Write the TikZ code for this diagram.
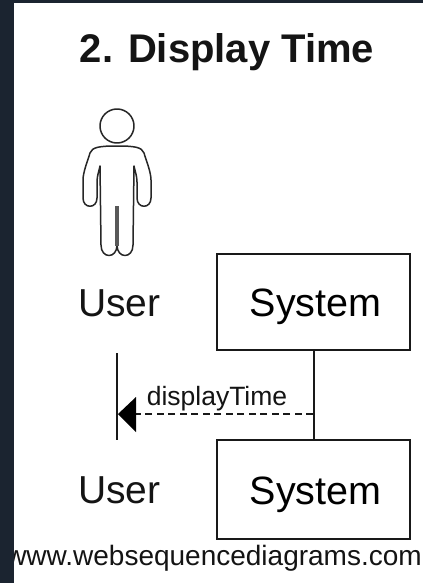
\documentclass[tikz,border=0pt]{standalone}
\usepackage{fontspec}
\setmainfont{Liberation Sans}
\definecolor{band}{HTML}{1B2430}
\newcommand{\boxlabel}[1]{\hspace*{4pt}\raisebox{-14.5pt}[0pt][0pt]{#1}}
\tikzset{
  lbl/.style={inner sep=0pt,anchor=base,text=black!92},
  actorbox/.style={draw=black!90,line width=1.8pt,minimum width=193pt,minimum height=96pt,inner sep=0pt,font=\fontsize{39.5}{40}\selectfont},
  lifeline/.style={draw=black!90,line width=2pt},
  figure/.style={draw=black!85,line width=1.5pt,line join=round,line cap=round},
}
\begin{document}
\begin{tikzpicture}[x=1pt,y=-1pt]
\useasboundingbox (0,0) rectangle (423,583);
\fill[white] (0,0) rectangle (423,583);
% text
\node[lbl,font=\fontsize{40}{42}\selectfont\bfseries] (title) at (227,63) {2. Display Time};
\node[lbl,font=\fontsize{39}{40}\selectfont] (userTop) at (119.5,316.7) {User};
\node[lbl,font=\fontsize{39}{40}\selectfont] (userBot) at (119.5,503.5) {User};
\node[actorbox] (sysTop) at (313.5,302) {\boxlabel{System}};
\node[actorbox,minimum height=99pt] (sysBot) at (313.5,489.5) {\boxlabel{System}};
\coordinate (uA) at (117,353);
\coordinate (uB) at (117,440);
\coordinate (msgEnd) at (313,414);
\coordinate (msgTip) at (118,414);
\draw[lifeline] (uA) -- (uB);
\draw[lifeline] (sysTop.south) -- (sysBot.north);
\draw[draw=black!90,line width=1.4pt,dash pattern=on 7pt off 4.5pt] (msgEnd) -- (msgTip);
\fill[black] (msgTip) -- (136,397) -- (136,432) -- cycle;
\node[lbl,font=\fontsize{26.5}{28}\selectfont] (msg) at (217,405) {displayTime};
\node[lbl,font=\fontsize{28}{30}\selectfont,anchor=base east] (url) at (422,565) {www.websequencediagrams.com};
% actor figure
\draw[figure] (117,126) circle (17);
\draw[figure] (117,146) .. controls (100,146) and (92,147) .. (90,153)
  .. controls (88,160) and (83,172) .. (83,180) -- (83,198)
  .. controls (83,209) and (97,209) .. (97,198) -- (97,182)
  .. controls (97,176) and (99,171) .. (100,166) -- (101,245)
  .. controls (101,259) and (117,259) .. (117,245)
  .. controls (117,259) and (133,259) .. (133,245) -- (134,166)
  .. controls (135,171) and (137,176) .. (137,182) -- (137,198)
  .. controls (137,209) and (151,209) .. (151,198) -- (151,180)
  .. controls (151,172) and (146,160) .. (144,153)
  .. controls (142,147) and (134,146) .. (117,146);
\draw[draw=black!65,line width=3.5pt] (117,206) -- (117,246);
% frame of the screenshot
\fill[band] (0,0) rectangle (14,583);
\fill[band] (0,0) rectangle (423,3);
\end{tikzpicture}
\end{document}
